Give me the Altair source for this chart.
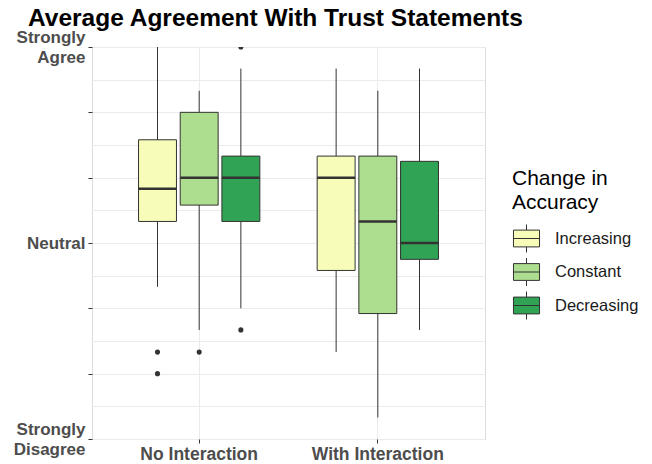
import altair as alt
import pandas as pd

groups = ["No Interaction", "No Interaction", "No Interaction",
          "With Interaction", "With Interaction", "With Interaction"]
changes = ["Increasing", "Constant", "Decreasing",
           "Increasing", "Constant", "Decreasing"]
lower = [3.33, 2.67, 3.0, 2.33, 1.33, 2.67]
q1 = [4.33, 4.58, 4.33, 3.58, 2.92, 3.75]
median = [4.83, 5.0, 5.0, 5.0, 4.33, 4.0]
q3 = [5.58, 6.0, 5.33, 5.33, 5.33, 5.25]
upper = [7.0, 6.33, 6.67, 6.67, 6.33, 6.67]

out_group = ["No Interaction", "No Interaction", "No Interaction", "No Interaction", "No Interaction"]
out_change = ["Increasing", "Increasing", "Constant", "Decreasing", "Decreasing"]
out_value = [2.33, 2.0, 2.33, 2.67, 7.0]

change_order = ["Increasing", "Constant", "Decreasing"]
colors = ["#f7fcb9", "#addd8e", "#31a354"]
group_order = ["No Interaction", "With Interaction"]

box = pd.DataFrame({"group": groups, "change": changes, "lower": lower,
                    "q1": q1, "median": median, "q3": q3, "upper": upper})
outl = pd.DataFrame({"group": out_group, "change": out_change, "value": out_value})

FONT = "Liberation Sans"
grid_vals = [1 + 0.5 * i for i in range(13)]

x_enc = alt.X("group:N", sort=group_order,
              scale=alt.Scale(paddingInner=0.30, paddingOuter=0.25),
              axis=alt.Axis(title=None, labelAngle=0, bandPosition=0.5,
                            labelFontSize=17.5, labelFontWeight="bold",
                            labelColor="#4d4d4d", labelFont=FONT,
                            tickSize=4, tickColor="#333333", labelPadding=2,
                            grid=True, gridColor="#ebebeb", domain=False))
xo_enc = alt.XOffset("change:N", sort=change_order,
                     scale=alt.Scale(paddingInner=0.09, paddingOuter=0.045))
y_scale = alt.Scale(domain=[1, 7], nice=False, zero=False)
y_axis = alt.Axis(title=None, values=grid_vals,
                  labelExpr="datum.value == 7 ? ['Strongly', 'Agree'] : datum.value == 4 ? 'Neutral' : datum.value == 1 ? ['Strongly', 'Disagree'] : ''",
                  labelFontSize=17, labelFontWeight="bold", labelColor="#4d4d4d",
                  labelFont=FONT, labelLineHeight=20, labelFlush=False,
                  labelOverlap=False, labelBound=False, labelPadding=3,
                  labelOffset={"condition": {"test": "datum.value == 7 || datum.value == 1", "value": -10}, "value": 0},
                  tickSize=4, tickColor="#333333",
                  tickOpacity={"condition": {"test": "datum.value % 1 === 0", "value": 1}, "value": 0},
                  grid=True, gridColor="#ebebeb", domain=False)

base = alt.Chart(box)

whisk = base.mark_rule(color="#333333", strokeWidth=1).encode(
    x=x_enc, xOffset=xo_enc,
    y=alt.Y("lower:Q", scale=y_scale, axis=y_axis), y2="upper:Q")

bars = base.mark_bar(stroke="#333333", strokeWidth=1, opacity=1).encode(
    x=x_enc, xOffset=xo_enc,
    y=alt.Y("q1:Q", scale=y_scale, axis=y_axis), y2="q3:Q",
    fill=alt.Fill("change:N", sort=change_order,
                  scale=alt.Scale(domain=change_order, range=colors),
                  legend=alt.Legend(
                      title=["Change in", "Accuracy"], orient="none",
                      legendX=420, legendY=121,
                      titleFontSize=21, titleFontWeight="normal", titleColor="black",
                      titleFont=FONT, titleLineHeight=24, titlePadding=11,
                      labelFontSize=16.5, labelColor="#1a1a1a", labelFont=FONT,
                      labelOffset=14,
                      symbolType="M-0.93,-0.6H0.93V0.6H-0.93Z M0,-0.6V-1 M0,0.6V1 M-0.93,0H0.93",
                      symbolSize=784, symbolStrokeColor="#333333",
                      symbolStrokeWidth=1, symbolOpacity=1, rowPadding=0.5)))

med = base.mark_tick(color="#333333", thickness=2.5, size=38, opacity=1).encode(
    x=x_enc, xOffset=xo_enc,
    y=alt.Y("median:Q", scale=y_scale, axis=y_axis))

pts = alt.Chart(outl).mark_circle(color="#333333", size=26, opacity=1, clip=True).encode(
    x=x_enc, xOffset=xo_enc,
    y=alt.Y("value:Q", scale=y_scale, axis=y_axis))

chart = alt.layer(whisk, bars, med, pts).properties(
    width=393, height=392,
    title=alt.Title("Average Agreement With Trust Statements", anchor="start",
                    frame="group",
                    fontSize=24.5, font=FONT, fontWeight="bold", color="black",
                    dx=-64, dy=15, offset=12),
    autosize=alt.AutoSizeParams(type="none"),
    padding={"left": 84, "top": 39, "right": 159, "bottom": 25},
).configure_view(stroke="#333333", strokeWidth=1).configure(background="white")

chart.save("out.html", embed_options={"renderer": "svg", "actions": False})
